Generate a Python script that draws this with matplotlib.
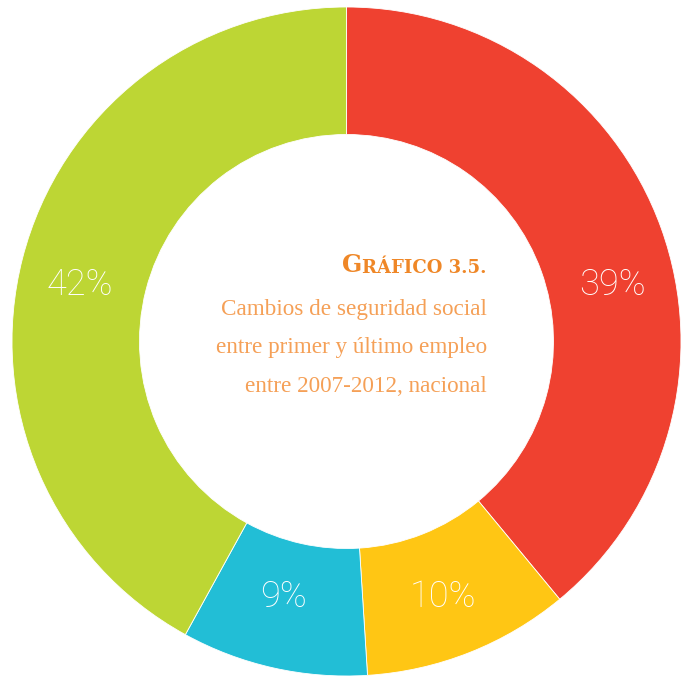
import matplotlib
matplotlib.use("Agg")
import matplotlib.pyplot as plt

# Data
categories = ["Rojo", "Amarillo", "Cian", "Verde"]
values = [39, 10, 9, 42]
labels = ["39%", "10%", "9%", "42%"]
colors = ["#EF4130", "#FFC614", "#22BED6", "#BDD634"]

title_first = "G"
title_rest = "RÁFICO 3.5."
subtitle_lines = ["Cambios de seguridad social",
                  "entre primer y último empleo",
                  "entre 2007-2012, nacional"]

W, H = 682, 677
cx, cy = 346.5, 341.5
R_out, R_in = 334.5, 207.0

fig = plt.figure(figsize=(W / 100, H / 100), dpi=100)
ax = fig.add_axes([0, 0, 1, 1])
ax.pie(values, colors=colors, startangle=90, counterclock=False,
       radius=R_out, center=(0, 0),
       wedgeprops=dict(width=R_out - R_in, edgecolor="white", linewidth=0.6))
ax.set_xlim(-cx, W - cx)
ax.set_ylim(-(H - cy), cy)
ax.set_aspect("equal")
ax.axis("off")

# label anchors (pixel positions in reference, converted to data coordinates)
label_px = [(612, 285), (443, 597), (283, 597), (80, 285)]
for lab, (px, py) in zip(labels, label_px):
    ax.text(px - cx, cy - py, lab, ha="center", va="center",
            color="white", fontsize=26, family="Roboto", fontweight="light")

# Title (small caps imitation)
tx = 487 - cx
t1 = ax.text(tx, cy - 273, title_rest, ha="right", va="baseline",
             color="#EF8727", fontsize=13, family="DejaVu Serif",
             fontweight="bold")
ax.annotate(title_first, xy=(0, 0), xycoords=t1, xytext=(0, 0),
            textcoords="offset points", ha="right", va="bottom",
            color="#EF8727", fontsize=17, family="DejaVu Serif",
            fontweight="bold")

baselines = [315, 353.5, 392]
for line, b in zip(subtitle_lines, baselines):
    ax.text(tx, cy - b, line, ha="right", va="baseline",
            color="#F5A057", fontsize=16.7, family="Liberation Serif")

fig.savefig("out.png", dpi=100)
